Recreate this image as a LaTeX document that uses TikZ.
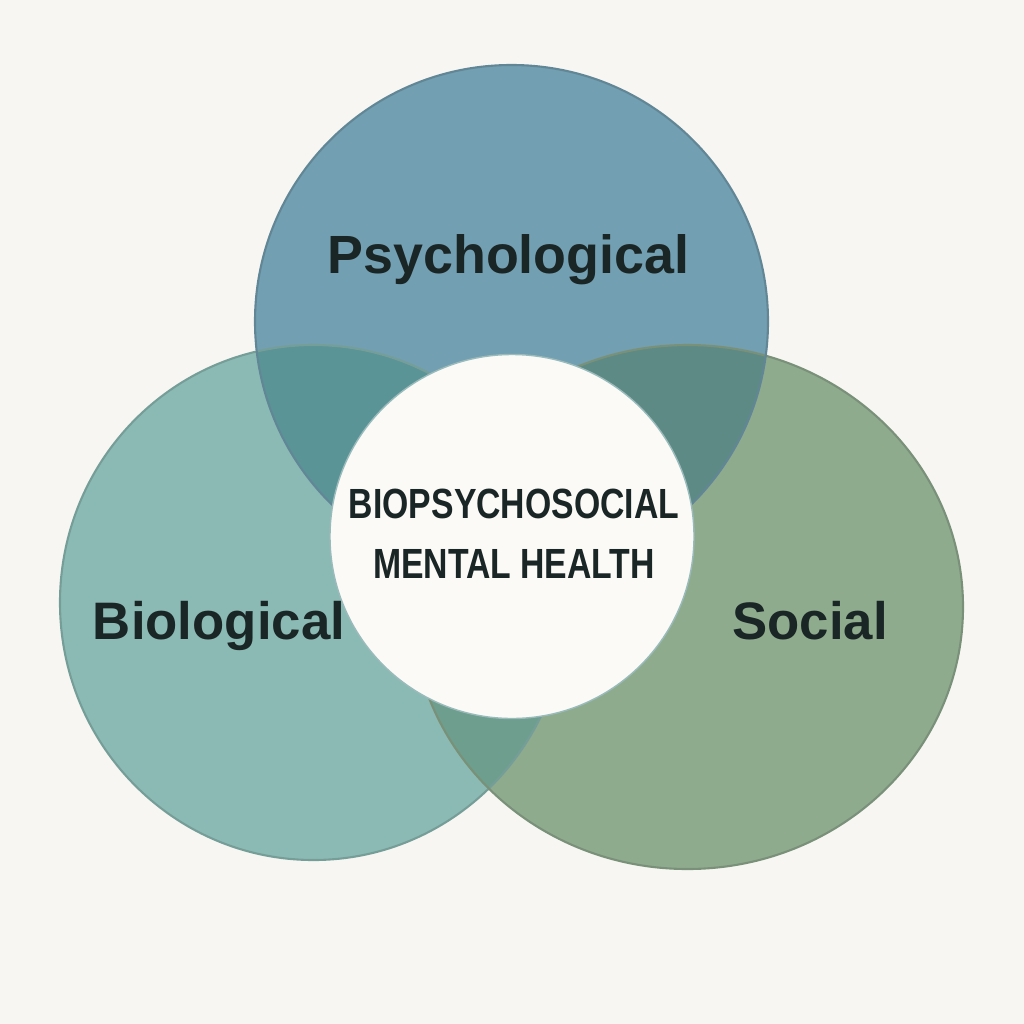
\documentclass[tikz,border=0pt]{standalone}
\usepackage{fontspec}
\setmainfont{Liberation Sans}
\usepackage{xcolor}
\usepackage{tikz}
\usetikzlibrary{positioning}

\definecolor{bgcol}{HTML}{F8F6F2}
\definecolor{psycol}{HTML}{729FB1}
\definecolor{biocol}{HTML}{8BBAB4}
\definecolor{soccol}{HTML}{8FAB8E}
\definecolor{psybio}{HTML}{5A9496}
\definecolor{psysoc}{HTML}{5E8A86}
\definecolor{biosoc}{HTML}{6E9E8D}
\definecolor{inkcol}{HTML}{1A2525}

% Shapes of the three sets:
\newcommand{\psyset}{(Cpsy) ellipse [x radius=256.5, y radius=256.5]}
\newcommand{\bioset}{(Cbio) ellipse [x radius=253.5, y radius=257.5]}
\newcommand{\socset}{(Csoc) ellipse [x radius=275.5, y radius=262]}

\tikzset{
	setlabel/.style={font=\fontsize{#1}{18}\selectfont\bfseries, text=inkcol, anchor=base, inner sep=0pt},
	setlabel/.default=15,
	corelabel/.style={font=\fontsize{12}{17}\selectfont\bfseries, text=inkcol, anchor=base, inner sep=0pt},
	rim/.style={line width=0.6pt}
}

\begin{document}
\begin{tikzpicture}[x=0.01cm, y=-0.01cm]
	% Canvas:
	\useasboundingbox (0,0) rectangle (1024,1024);
	\fill[bgcol] (0,0) rectangle (1024,1024);
	% Centres of the three sets and of the core:
	\coordinate (Cpsy) at (511.5, 321.5);
	\coordinate (Cbio) at (313.5, 602.5);
	\coordinate (Csoc) at (687.5, 607);
	\coordinate (Ccore) at (512, 536.5);
	% Sets:
	\fill[biocol] \bioset;
	\fill[soccol] \socset;
	\fill[psycol] \psyset;
	% Pairwise overlaps:
	\begin{scope}
		\clip \psyset;
		\fill[psybio] \bioset;
		\fill[psysoc] \socset;
	\end{scope}
	\begin{scope}
		\clip \bioset;
		\fill[biosoc] \socset;
	\end{scope}
	% Rims:
	\draw[rim, biocol!85!black] \bioset;
	\draw[rim, soccol!85!black] \socset;
	\draw[rim, psycol!85!black] \psyset;
	% Core:
	\fill[bgcol!60!white] (Ccore) circle (182);
	\draw[line width=0.4pt, psybio!60!bgcol] (Ccore) circle (182);
	% Labels:
	\node[setlabel=15.3] (psy) at (508.5, 273) {Psychological};
	\node[setlabel] (bio) at (219, 639) {Biological};
	\node[setlabel] (soc) at (810, 639) {Social};
	\node[corelabel] (core1) at (514, 518) {\scalebox{0.8}[1]{BIOPSYCHOSOCIAL}};
	\node[corelabel] (core2) at (514, 578) {\scalebox{0.8}[1]{MENTAL HEALTH}};
\end{tikzpicture}
\end{document}
